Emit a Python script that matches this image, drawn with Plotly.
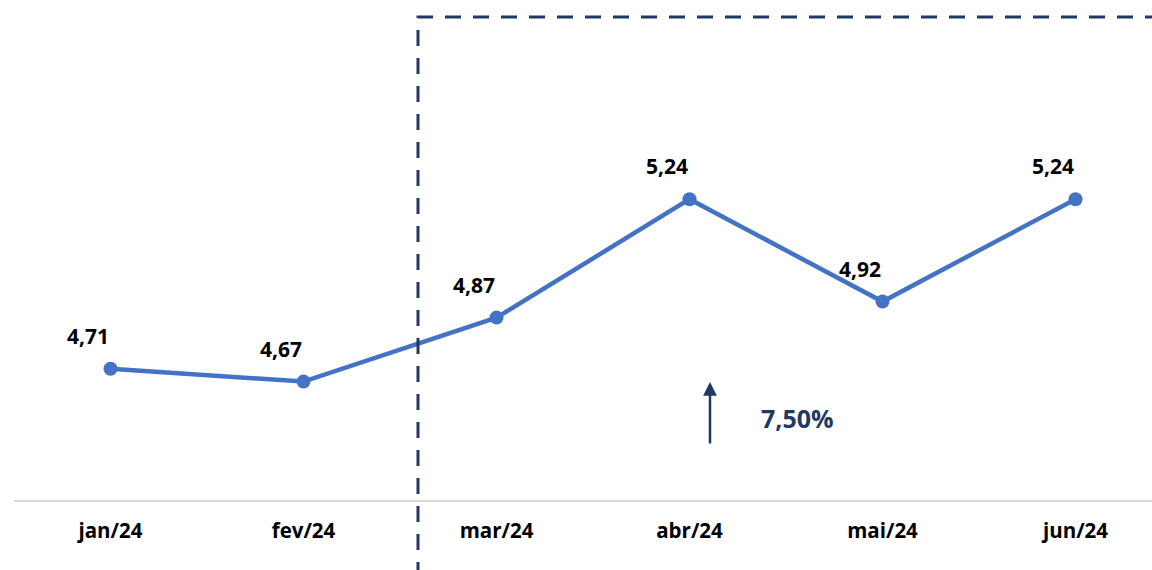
import plotly.graph_objects as go

months = ["jan/24", "fev/24", "mar/24", "abr/24", "mai/24", "jun/24"]
values = [4.71, 4.67, 4.87, 5.24, 4.92, 5.24]
value_labels = ["4,71", "4,67", "4,87", "5,24", "4,92", "5,24"]
growth_label = "7,50%"

W, H = 1152, 570
ml, mt = 14, 0
plot_h = 500
mb = H - plot_h
plot_w = W - ml
px_per_cat = 193.0
x_range = [-0.5, -0.5 + plot_w / px_per_cat]
y_range = [4.3, 4.3 + plot_h / 320.0]

font_fam = "Open Sans, Liberation Sans, sans-serif"
navy = "#1F3864"

fig = go.Figure()
fig.add_trace(go.Scatter(
    x=list(range(len(months))), y=values, mode="lines+markers",
    line=dict(color="#4472C4", width=4.5),
    marker=dict(color="#4472C4", size=14),
    hoverinfo="skip", showlegend=False, cliponaxis=False,
))

for i, (v, t) in enumerate(zip(values, value_labels)):
    fig.add_annotation(x=i, y=v, text=f"<b>{t}</b>", showarrow=False,
                       xshift=-23, yshift=33,
                       font=dict(family=font_fam, size=21, color="#000000"))

# convert page pixels to paper coords
def xp(px):
    return (px - ml) / plot_w

def yp(py):
    return (mt + plot_h - py) / plot_h

# dashed highlight rectangle
fig.add_shape(type="rect", xref="paper", yref="paper",
              x0=xp(418), x1=xp(1220), y0=yp(640), y1=yp(17),
              line=dict(color=navy, width=3, dash="16px,12px"),
              fillcolor="rgba(0,0,0,0)", layer="above")

# arrow
fig.add_annotation(xref="paper", yref="paper", x=xp(710), y=yp(382),
                   ax=0, ay=63, axref="pixel", ayref="pixel",
                   showarrow=True, arrowhead=2, arrowsize=1.1, arrowwidth=2.5,
                   arrowcolor=navy, text="")
fig.add_annotation(xref="paper", yref="paper", x=xp(797), y=yp(418),
                   xanchor="center", yanchor="middle",
                   text=f"<b>{growth_label}</b>", showarrow=False,
                   font=dict(family=font_fam, size=25, color=navy))

fig.update_layout(
    width=W, height=H,
    margin=dict(l=ml, r=0, t=mt, b=mb),
    paper_bgcolor="white", plot_bgcolor="white",
    hovermode=False,
    xaxis=dict(range=x_range, tickmode="array", tickvals=list(range(len(months))),
               ticktext=[f"<b>{m}</b>" for m in months],
               showgrid=False, zeroline=False, showline=True,
               linecolor="#D9D9D9", linewidth=2, ticks="",
               ticklabelstandoff=11,
               tickfont=dict(family=font_fam, size=20.5, color="#000000")),
    yaxis=dict(range=y_range, visible=False, showgrid=False, zeroline=False),
)

fig.write_html("out.html",
               config={"displayModeBar": False},
               post_script="document.body.style.margin='0';document.body.style.overflow='hidden';")
